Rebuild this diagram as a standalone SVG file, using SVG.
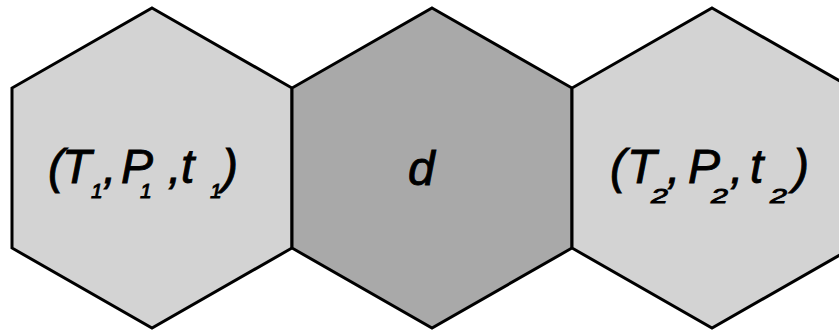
<svg xmlns="http://www.w3.org/2000/svg" width="839" height="330" viewBox="0 0 839 330">
<style>
.hex{stroke:#000;stroke-width:3;stroke-linejoin:miter}
.light{fill:#d3d3d3}
.dark{fill:#a9a9a9}
.lbl{font-family:"Liberation Sans",Arial,sans-serif;font-style:italic;font-size:48px;fill:#000;stroke:#000;stroke-width:0.9}
.sub{font-family:"Liberation Sans",Arial,sans-serif;font-style:italic;font-size:21px;fill:#000;stroke:#000;stroke-width:0.9}
</style>
<rect width="839" height="330" fill="#fff"/>
<g id="node-left">
<polygon class="hex light" points="152,8 292,88 292,248 152,328 12,248 12,88"/>
<text class="lbl"><tspan x="48" y="183">(</tspan><tspan x="62" y="183">T</tspan><tspan class="sub" x="91" y="198">1</tspan><tspan x="103" y="183">,</tspan><tspan x="121" y="183">P</tspan><tspan class="sub" x="140" y="198">1</tspan><tspan x="168" y="183">,</tspan><tspan x="181" y="183">t</tspan><tspan class="sub" x="210" y="198">1</tspan><tspan x="222" y="183">)</tspan></text>
</g>
<g id="node-middle">
<polygon class="hex dark" points="432,8 572,88 572,248 432,328 292,248 292,88"/>
<text class="lbl" x="408" y="185" font-size="46">d</text>
</g>
<g id="node-right">
<polygon class="hex light" points="712,8 852,88 852,248 712,328 572,248 572,88"/>
<text class="lbl"><tspan x="610" y="183">(</tspan><tspan x="627" y="183">T</tspan><tspan x="667" y="183">,</tspan><tspan x="688" y="183">P</tspan><tspan x="730" y="183">,</tspan><tspan x="750" y="183">t</tspan><tspan x="793" y="183">)</tspan></text>
<text class="sub" transform="translate(651,203) scale(1.45,1)">2</text>
<text class="sub" transform="translate(711,203) scale(1.45,1)">2</text>
<text class="sub" transform="translate(770,203) scale(1.45,1)">2</text>
</g>
<g id="connectors"></g>
</svg>
